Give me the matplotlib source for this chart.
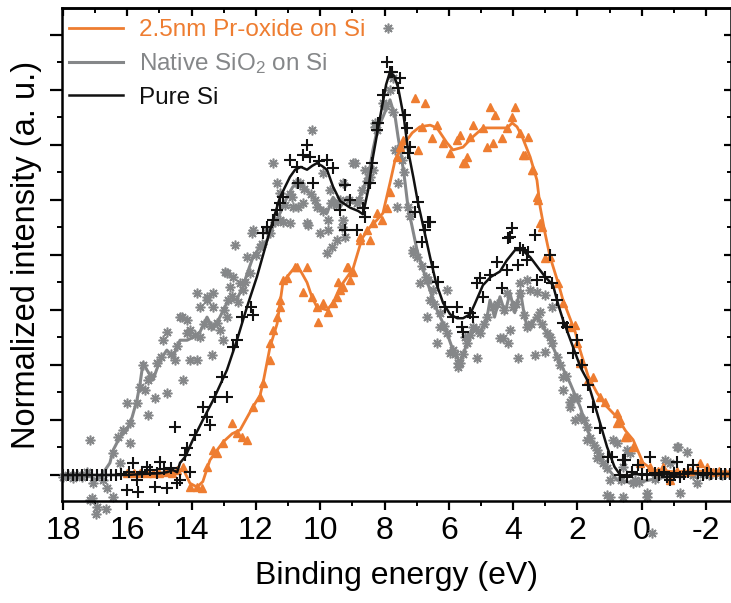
import numpy as np
import matplotlib
matplotlib.use("Agg")
import matplotlib.pyplot as plt
from matplotlib.lines import Line2D
from matplotlib.ticker import MultipleLocator

plt.rcParams['font.family'] = ['Liberation Sans', 'DejaVu Sans']
plt.rcParams['mathtext.fontset'] = 'custom'
plt.rcParams['mathtext.rm'] = 'Liberation Sans'
plt.rcParams['mathtext.it'] = 'Liberation Sans'
plt.rcParams['axes.unicode_minus'] = False

C_OR = '#ee7d31'
C_GR = '#858789'
C_BK = '#111111'

labels = ["2.5nm Pr-oxide on Si", "Native SiO$_2$ on Si", "Pure Si"]
x_label = "Binding energy (eV)"
y_label = "Normalized intensity (a. u.)"
x_ticks = [18, 16, 14, 12, 10, 8, 6, 4, 2, 0, -2]

# ---- smoothed lines (binding energy, intensity) ----
black_line = [(18.0, 0.0), (17.0, 0.0), (16.0, 0.0), (15.5, 0.02), (15.0, 0.03), (14.77, 0.05),
              (14.58, 0.09), (14.45, 0.05), (14.36, 0.22), (14.2, 0.33), (13.96, 0.64), (13.65, 1.0),
              (13.33, 1.36), (12.9, 1.91), (12.59, 2.45), (12.28, 3.05), (11.97, 3.6), (11.56, 4.45),
              (11.25, 5.05), (10.94, 5.42), (10.78, 5.55), (10.6, 5.6), (10.41, 5.55), (10.25, 5.62),
              (10.1, 5.67), (9.95, 5.62), (9.79, 5.55), (9.6, 5.24), (9.38, 4.98), (9.07, 4.86),
              (8.82, 4.8), (8.67, 4.74), (8.51, 5.18), (8.36, 5.78), (8.14, 6.5), (7.95, 7.1),
              (7.83, 7.33), (7.7, 7.25), (7.58, 7.05), (7.4, 6.5), (7.27, 5.91), (7.1, 5.4),
              (6.96, 4.95), (6.75, 4.4), (6.58, 3.95), (6.4, 3.5), (6.18, 3.13), (5.96, 2.92),
              (5.74, 2.85), (5.56, 2.85), (5.34, 2.92), (5.2, 3.1), (4.94, 3.45), (4.7, 3.6),
              (4.41, 3.7), (4.2, 3.9), (3.94, 4.09), (3.72, 4.09), (3.47, 3.96), (3.2, 3.75),
              (3.0, 3.6), (2.76, 3.45), (2.6, 3.1), (2.45, 2.82), (2.14, 2.33), (1.9, 1.95),
              (1.7, 1.73), (1.39, 1.13), (1.08, 0.51), (0.85, 0.15), (0.67, 0.0), (0.5, -0.02),
              (0.2, 0.02), (0.0, 0.0), (-0.5, 0.03), (-1.0, 0.0), (-1.5, 0.03), (-2.0, 0.02),
              (-2.8, 0.02)]

gray_line = [(18.0, -0.03), (17.5, -0.03), (17.16, -0.03), (16.95, -0.09), (16.76, 0.03),
             (16.54, 0.22), (16.44, 0.45), (16.23, 0.69), (16.01, 0.82), (15.85, 1.05), (15.7, 1.36),
             (15.6, 1.67), (15.51, 2.04), (15.39, 1.91), (15.2, 1.73), (14.98, 2.09), (14.77, 2.27),
             (14.58, 2.15), (14.36, 2.45), (14.14, 2.45), (13.96, 2.5), (13.74, 2.6), (13.52, 2.87),
             (13.33, 2.65), (13.12, 2.87), (12.9, 3.13), (12.59, 3.2), (12.4, 3.42), (12.28, 3.65),
             (12.09, 3.96), (11.87, 4.15), (11.65, 4.27), (11.47, 4.51), (11.25, 4.76), (11.03, 5.05),
             (10.85, 5.24), (10.63, 5.31), (10.41, 5.18), (10.22, 5.05), (10.0, 4.87), (9.79, 4.76),
             (9.6, 5.05), (9.38, 4.87), (9.17, 5.05), (8.86, 4.95), (8.67, 5.18), (8.45, 5.6),
             (8.36, 5.91), (8.23, 6.27), (8.05, 6.51), (7.83, 6.82), (7.67, 6.51), (7.58, 6.15),
             (7.46, 5.73), (7.36, 5.31), (7.27, 4.87), (7.14, 4.51), (6.99, 4.09), (6.8, 3.73),
             (6.58, 3.35), (6.37, 3.0), (6.18, 2.76), (6.06, 2.58), (5.87, 2.27), (5.65, 2.04),
             (5.43, 2.4), (5.25, 2.69), (5.03, 2.58), (4.81, 2.87), (4.72, 3.18), (4.58, 2.87),
             (4.41, 3.24), (4.25, 2.95), (4.1, 3.31), (3.95, 2.95), (3.78, 3.36), (3.68, 3.0),
             (3.57, 2.69), (3.26, 2.87), (2.95, 2.58), (2.63, 2.15), (2.23, 1.67), (1.92, 1.24),
             (1.61, 0.69), (1.2, 0.22), (0.77, -0.09), (0.27, -0.15), (-0.26, -0.09), (-0.79, -0.03),
             (-1.28, -0.03), (-1.81, 0.03), (-2.34, 0.03), (-2.8, 0.02)]

orange_line = [(16.0, 0.03), (15.0, 0.03), (14.45, 0.05), (14.27, 0.12), (14.05, -0.15),
               (13.83, -0.22), (13.65, -0.12), (13.43, 0.27), (13.21, 0.45), (13.02, 0.6),
               (12.74, 0.75), (12.49, 0.82), (12.09, 1.24), (11.87, 1.45), (11.78, 1.67),
               (11.56, 2.33), (11.34, 2.75), (11.16, 3.5), (10.94, 3.67), (10.78, 3.78), (10.6, 3.7),
               (10.41, 3.5), (10.26, 3.24), (10.1, 3.05), (9.79, 3.0), (9.6, 3.13), (9.38, 3.42),
               (8.98, 3.75), (8.7, 4.3), (8.45, 4.51), (8.23, 4.64), (8.05, 4.76), (7.83, 5.31),
               (7.67, 5.73), (7.46, 5.96), (7.14, 6.22), (6.9, 6.33), (6.58, 6.36), (6.37, 6.31),
               (6.06, 6.04), (5.87, 5.91), (5.56, 5.96), (5.25, 6.15), (4.94, 6.31), (4.5, 6.31),
               (4.19, 6.31), (4.03, 6.4), (3.88, 6.33), (3.72, 6.15), (3.47, 5.78), (3.26, 5.36),
               (3.16, 4.87), (3.01, 4.4), (2.85, 3.96), (2.6, 3.49), (2.45, 3.18), (2.07, 2.6),
               (1.92, 2.27), (1.67, 1.8), (1.39, 1.49), (1.1, 1.25), (0.77, 1.05), (0.5, 0.8),
               (0.27, 0.64), (-0.04, 0.22), (-0.35, 0.09), (-1.0, 0.06), (-2.0, 0.07), (-2.8, 0.05)]

# ---- measured points ----
black_pts = [(18.0, 0.0), (17.85, 0.0), (17.7, 0.0), (17.55, 0.0), (17.4, 0.0), (17.25, 0.0),
             (17.1, 0.0), (16.95, 0.0), (16.8, 0.0), (16.65, 0.0), (16.5, 0.0), (16.35, 0.0),
             (16.2, 0.02), (16.01, -0.27), (15.95, 0.05), (15.82, 0.22), (15.7, -0.09), (15.67, -0.31),
             (15.55, 0.05), (15.39, 0.15), (15.29, 0.09), (15.14, -0.22), (15.08, 0.03), (14.98, 0.24),
             (14.85, 0.1), (14.77, -0.24), (14.65, 0.12), (14.52, 0.87), (14.45, -0.15), (14.36, -0.09),
             (14.2, 0.36), (14.14, 0.49), (14.05, 0.05), (13.89, 0.73), (13.65, 1.24), (13.52, 1.05),
             (13.43, 0.91), (13.27, 1.42), (13.05, 1.78), (12.9, 1.42), (12.71, 2.33), (12.6, 2.45),
             (12.43, 2.87), (12.09, 2.91), (12.15, 3.05), (11.78, 4.4), (11.65, 4.51), (11.47, 4.64),
             (11.34, 4.82), (11.25, 4.95), (11.16, 5.05), (10.94, 5.73), (10.72, 5.6), (10.69, 5.31),
             (10.53, 5.82), (10.41, 6.0), (10.32, 5.78), (10.22, 5.31), (10.05, 5.7), (9.79, 5.73),
             (9.6, 5.58), (9.38, 4.82), (9.23, 5.27), (9.23, 4.45), (9.07, 5.0), (8.86, 4.45),
             (8.67, 4.85), (8.61, 4.69), (8.45, 5.31), (8.39, 5.67), (8.23, 6.27), (8.2, 6.4),
             (8.05, 6.91), (7.92, 7.51), (7.83, 7.33), (7.77, 7.33), (7.58, 7.03), (7.52, 7.22),
             (7.36, 6.55), (7.3, 6.31), (7.27, 5.85), (7.21, 5.96), (7.05, 4.78), (6.96, 4.96),
             (6.83, 4.24), (6.74, 4.45), (6.65, 4.6), (6.58, 4.6), (6.49, 3.78), (6.34, 3.51),
             (6.12, 3.05), (5.87, 2.87), (5.74, 3.05), (5.59, 2.69), (5.56, 2.6), (5.34, 2.95),
             (5.25, 2.87), (5.12, 3.49), (5.03, 3.58), (4.94, 3.24), (4.72, 3.64), (4.5, 3.87),
             (4.35, 3.4), (4.19, 3.73), (4.16, 4.31), (4.1, 4.33), (4.03, 4.49), (3.85, 3.82),
             (3.78, 4.13), (3.69, 4.09), (3.57, 3.91), (3.54, 4.05), (3.32, 4.36), (3.26, 3.55),
             (3.01, 3.6), (2.85, 4.0), (2.79, 3.49), (2.63, 3.18), (2.45, 2.76), (2.32, 2.69),
             (2.14, 2.22), (2.01, 2.45), (1.86, 2.0), (1.67, 1.64), (1.51, 1.24), (1.29, 0.85),
             (1.05, 0.33), (0.92, 0.33), (0.67, 0.0), (0.58, 0.27), (0.52, 0.27), (0.46, -0.03),
             (0.3, 0.05), (0.12, 0.18), (0.0, 0.02), (-0.15, 0.0), (-0.26, 0.33), (-0.4, 0.03),
             (-0.55, 0.0), (-0.7, 0.05), (-0.79, -0.03), (-0.88, -0.09), (-1.0, 0.03), (-1.1, 0.24),
             (-1.19, -0.03), (-1.3, 0.02), (-1.45, 0.05), (-1.6, 0.18), (-1.75, 0.03), (-1.9, 0.0),
             (-2.03, 0.03), (-2.15, 0.02), (-2.3, 0.02), (-2.45, 0.02), (-2.6, 0.02), (-2.75, 0.02)]

orange_pts = [(16.0, 0.03), (15.8, 0.03), (15.6, 0.03), (15.4, 0.03), (15.2, 0.03), (15.0, 0.03),
              (14.8, 0.05), (14.6, 0.03), (14.45, 0.09), (14.27, 0.15), (14.05, -0.22), (13.83, -0.22),
              (13.68, -0.24), (13.52, 0.15), (13.33, 0.45), (13.21, 0.4), (13.02, 0.58), (12.74, 0.95),
              (12.59, 0.76), (12.43, 0.69), (12.28, 0.64), (12.09, 1.24), (11.87, 1.42), (11.78, 1.67),
              (11.56, 2.09), (11.56, 2.4), (11.47, 2.64), (11.34, 2.87), (11.25, 3.05), (11.25, 3.18),
              (11.16, 3.55), (11.03, 3.58), (10.78, 3.78), (10.72, 3.78), (10.53, 3.33), (10.41, 3.78),
              (10.26, 3.24), (10.1, 3.05), (10.07, 2.78), (9.91, 3.13), (9.76, 2.96), (9.6, 3.13),
              (9.48, 3.24), (9.45, 3.51), (9.38, 3.36), (9.29, 3.42), (9.17, 3.78), (9.14, 3.78),
              (9.07, 3.55), (8.98, 3.69), (8.76, 4.27), (8.76, 4.33), (8.55, 4.45), (8.45, 4.27),
              (8.36, 4.58), (8.23, 4.76), (8.08, 4.64), (7.92, 4.85), (7.83, 5.15), (7.61, 5.78),
              (7.52, 5.96), (7.43, 6.09), (7.05, 6.85), (6.96, 5.91), (6.83, 6.33), (6.74, 6.76),
              (6.52, 6.13), (6.37, 6.36), (6.18, 6.04), (5.96, 5.85), (5.74, 6.09), (5.65, 6.18),
              (5.56, 5.67), (5.5, 5.67), (5.43, 5.78), (5.34, 6.15), (5.25, 6.36), (4.94, 6.31),
              (4.81, 5.96), (4.72, 6.69), (4.63, 6.04), (4.57, 6.55), (4.35, 6.13), (4.2, 6.3),
              (4.03, 6.51), (3.94, 6.69), (3.78, 6.22), (3.69, 5.82), (3.63, 5.82), (3.54, 6.15),
              (3.41, 5.55), (3.38, 5.55), (3.26, 5.05), (3.23, 5.0), (3.16, 4.58), (3.1, 4.51),
              (3.01, 3.95), (2.85, 3.96), (2.6, 3.49), (2.45, 3.13), (2.23, 2.69), (2.07, 2.73),
              (2.01, 2.4), (1.92, 2.04), (1.67, 1.73), (1.51, 1.78), (1.29, 1.42), (1.14, 1.33),
              (0.77, 1.13), (0.77, 0.95), (0.67, 1.0), (0.52, 0.69), (0.46, 0.69), (0.27, 0.51),
              (0.05, 0.22), (-0.26, 0.15), (-0.5, 0.08), (-0.66, 0.15), (-0.88, -0.09), (-1.1, 0.08),
              (-1.3, 0.05), (-1.5, 0.08), (-1.81, 0.22), (-2.03, 0.15), (-2.2, 0.05), (-2.4, 0.08),
              (-2.6, 0.05), (-2.75, 0.05)]

gray_pts = [(18.0, -0.03), (17.85, 0.0), (17.7, -0.05), (17.55, 0.0), (17.4, -0.03), (17.25, 0.05),
            (17.16, 0.64), (17.16, -0.45), (17.1, -0.42), (17.07, -0.15), (16.97, -0.71), (16.95, -0.58),
            (16.76, -0.09), (16.66, -0.62), (16.63, -0.24), (16.44, -0.4), (16.44, 0.4), (16.29, 0.69),
            (16.23, 0.22), (16.13, 0.82), (16.01, 1.31), (15.92, 0.95), (15.92, 0.58), (15.7, 1.3),
            (15.51, 2.0), (15.45, 1.55), (15.36, 1.73), (15.36, 1.09), (15.14, 1.4), (15.08, 2.04),
            (14.89, 2.45), (14.77, 2.6), (14.77, 1.49), (14.52, 2.09), (14.36, 2.87), (14.3, 2.87),
            (14.27, 1.73), (14.14, 2.82), (14.14, 2.58), (14.05, 2.64), (14.05, 2.09), (13.83, 3.31),
            (13.83, 2.09), (13.74, 3.05), (13.74, 2.51), (13.52, 3.18), (13.52, 3.24), (13.36, 2.18),
            (13.33, 3.05), (13.33, 3.31), (13.21, 2.76), (13.12, 2.64), (13.02, 2.45), (12.96, 3.69),
            (12.9, 3.67), (12.9, 2.87), (12.87, 3.18), (12.81, 3.42), (12.71, 3.6), (12.65, 4.18),
            (12.49, 3.49), (12.4, 3.36), (12.28, 3.96), (12.18, 3.67), (12.12, 4.4), (12.09, 4.45),
            (11.87, 4.15), (11.65, 4.45), (11.47, 5.67), (11.34, 5.31), (11.25, 4.64), (11.25, 5.13),
            (11.16, 4.6), (10.94, 4.58), (10.88, 5.05), (10.85, 4.87), (10.69, 4.87), (10.63, 5.31),
            (10.53, 4.95), (10.41, 4.58), (10.38, 4.55), (10.26, 6.27), (10.1, 4.87), (10.01, 4.4),
            (9.91, 5.49), (9.79, 4.04), (9.76, 4.45), (9.76, 4.64), (9.7, 5.18), (9.63, 4.15),
            (9.48, 4.27), (9.38, 5.0), (9.32, 4.51), (9.29, 5.31), (9.29, 4.64), (9.23, 4.33),
            (8.98, 5.67), (8.92, 5.67), (8.86, 4.95), (8.7, 5.18), (8.61, 5.55), (8.45, 5.42),
            (8.36, 5.55), (8.3, 6.33), (8.3, 6.4), (8.23, 6.27), (8.05, 6.76), (7.89, 8.13),
            (7.83, 7.0), (7.73, 7.22), (7.67, 5.91), (7.61, 4.87), (7.58, 5.31), (7.46, 5.73),
            (7.27, 4.87), (7.11, 4.09), (7.11, 4.04), (6.99, 3.96), (6.9, 3.49), (6.68, 3.55),
            (6.68, 2.87), (6.65, 3.55), (6.58, 3.18), (6.49, 3.36), (6.37, 2.4), (6.27, 2.69),
            (6.27, 2.95), (6.06, 3.36), (6.06, 2.58), (5.96, 2.22), (5.87, 2.27), (5.71, 1.96),
            (5.71, 2.04), (5.65, 2.04), (5.5, 2.51), (5.43, 2.4), (5.25, 2.69), (5.12, 2.13),
            (5.03, 2.58), (4.81, 2.87), (4.63, 3.05), (4.41, 2.49), (4.32, 2.49), (4.19, 3.31),
            (4.16, 2.4), (4.1, 2.64), (4.0, 3.05), (3.85, 2.13), (3.78, 3.49), (3.78, 3.31),
            (3.57, 3.55), (3.57, 2.69), (3.47, 3.36), (3.32, 2.18), (3.26, 3.33), (3.26, 2.87),
            (3.16, 2.96), (3.01, 3.27), (3.01, 2.24), (2.95, 2.58), (2.85, 2.51), (2.79, 3.05),
            (2.63, 2.15), (2.45, 1.78), (2.45, 1.55), (2.23, 1.24), (2.23, 1.33), (2.14, 1.42),
            (2.07, 1.0), (1.92, 1.05), (1.7, 0.64), (1.7, 0.87), (1.61, 0.67), (1.39, 0.45),
            (1.39, 0.31), (1.2, 0.22), (1.08, 0.13), (1.08, -0.36), (0.98, -0.09), (0.98, -0.4),
            (0.89, 0.64), (0.77, 0.58), (0.58, -0.4), (0.58, 0.15), (0.46, 0.45), (0.36, 0.4),
            (0.27, -0.15), (0.2, -0.1), (-0.17, -0.33), (-0.17, -0.4), (-0.32, -1.05), (-0.5, 0.0),
            (-0.73, 0.27), (-0.88, 0.22), (-1.1, 0.51), (-1.13, 0.51), (-1.19, -0.33), (-1.41, 0.42),
            (-1.6, 0.0), (-1.72, -0.15), (-1.9, 0.02), (-2.1, 0.0), (-2.3, 0.03), (-2.5, 0.0),
            (-2.7, 0.02),
            # additional points clustered along the noisy native-oxide curve
            (15.6, 1.6), (15.25, 1.8), (14.95, 2.15), (14.65, 2.2), (14.45, 2.35), (13.9, 2.55),
            (13.6, 2.75), (13.4, 2.7), (13.0, 3.0), (12.75, 3.25), (12.55, 3.15), (12.35, 3.5),
            (12.0, 4.0), (11.8, 4.2), (11.55, 4.4), (11.4, 4.6), (11.1, 4.9), (10.95, 5.1),
            (10.75, 5.3), (10.5, 5.2), (10.3, 5.1), (10.15, 5.0), (9.9, 4.8), (9.65, 4.95),
            (9.5, 4.9), (9.1, 5.0), (8.8, 5.0), (8.55, 5.35), (7.95, 6.7), (7.75, 6.6),
            (7.52, 5.95), (7.4, 5.5), (7.2, 4.7), (6.85, 3.8), (6.72, 3.6), (6.45, 3.1),
            (6.15, 2.7), (5.8, 2.2), (5.55, 2.2), (5.35, 2.55), (5.15, 2.65), (4.9, 2.75),
            (4.5, 3.1), (4.3, 3.0), (3.9, 3.1), (3.65, 2.9), (3.45, 2.75), (3.1, 2.75),
            (2.8, 2.4), (2.55, 2.0), (2.35, 1.8), (2.0, 1.4), (1.8, 1.0), (1.5, 0.55),
            (1.3, 0.35), (0.65, -0.1), (0.1, -0.12), (-0.4, -0.08)]

# ---------------------------------------------------------------
W, H = 731, 603
fig = plt.figure(figsize=(W / 100, H / 100), dpi=100)
ax = fig.add_axes([62 / W, (H - 501) / H, (731.5 - 62) / W, (501 - 8) / H])

def arr(p):
    a = np.array(p)
    return a[:, 0], a[:, 1]

gx, gy = arr(gray_pts)
ax.plot(gx, gy, linestyle='none', marker=(8, 2, 0), ms=7, mew=1.15, color=C_GR,
        clip_on=False, zorder=2)
gx, gy = arr(gray_line)
ax.plot(gx, gy, color=C_GR, lw=2.2, zorder=3)

ox, oy = arr(orange_pts)
ax.plot(ox, oy, linestyle='none', marker='^', ms=5.5, color=C_OR, mec=C_OR, zorder=4)
ox, oy = arr(orange_line)
ax.plot(ox, oy, color=C_OR, lw=2.0, zorder=5)

bx, by = arr(black_pts)
ax.plot(bx, by, linestyle='none', marker='+', ms=8, mew=1.5, color=C_BK, zorder=6)
bx, by = arr(black_line)
ax.plot(bx, by, color=C_BK, lw=1.8, zorder=7)

ax.set_xlim(18.03, -2.79)
ax.set_ylim(-0.473, 8.49)

ax.set_xticks(x_ticks)
ax.xaxis.set_minor_locator(MultipleLocator(1))
ax.yaxis.set_major_locator(MultipleLocator(1))
ax.yaxis.set_minor_locator(MultipleLocator(0.5))
ax.set_yticklabels([])
ax.tick_params(axis='both', which='major', direction='out', length=6.5, width=1.6, labelsize=23,
               pad=4)
ax.tick_params(axis='both', which='minor', direction='out', length=3.5, width=1.4)
ax.tick_params(axis='y', which='major', length=8.5)

for s in ax.spines.values():
    s.set_linewidth(1.8)

top = ax.secondary_xaxis('top')
top.set_xticks(x_ticks)
top.xaxis.set_minor_locator(MultipleLocator(1))
top.tick_params(which='major', direction='in', length=6, width=1.6, labeltop=False)
top.tick_params(which='minor', direction='in', length=3.5, width=1.4)
top.spines['top'].set_linewidth(1.8)

right = ax.secondary_yaxis('right')
right.yaxis.set_major_locator(MultipleLocator(1))
right.yaxis.set_minor_locator(MultipleLocator(0.5))
right.tick_params(which='major', direction='in', length=6, width=1.6, labelright=False)
right.tick_params(which='minor', direction='in', length=3.5, width=1.4)

ax.set_xlabel(x_label, fontsize=23, labelpad=11)
ax.set_ylabel(y_label, fontsize=23.5, labelpad=2)

handles = [Line2D([], [], color=C_OR, lw=2.0),
           Line2D([], [], color=C_GR, lw=2.2),
           Line2D([], [], color=C_BK, lw=1.8)]
leg = ax.legend(handles, labels, loc='upper left', bbox_to_anchor=(0.0, 0.992), frameon=False,
                fontsize=17.5, handlelength=2.2, handletextpad=0.65, labelspacing=0.42,
                borderaxespad=0.1, borderpad=0.2)
for t, c in zip(leg.get_texts(), [C_OR, C_GR, C_BK]):
    t.set_color(c)

fig.savefig("out.png", dpi=100)
